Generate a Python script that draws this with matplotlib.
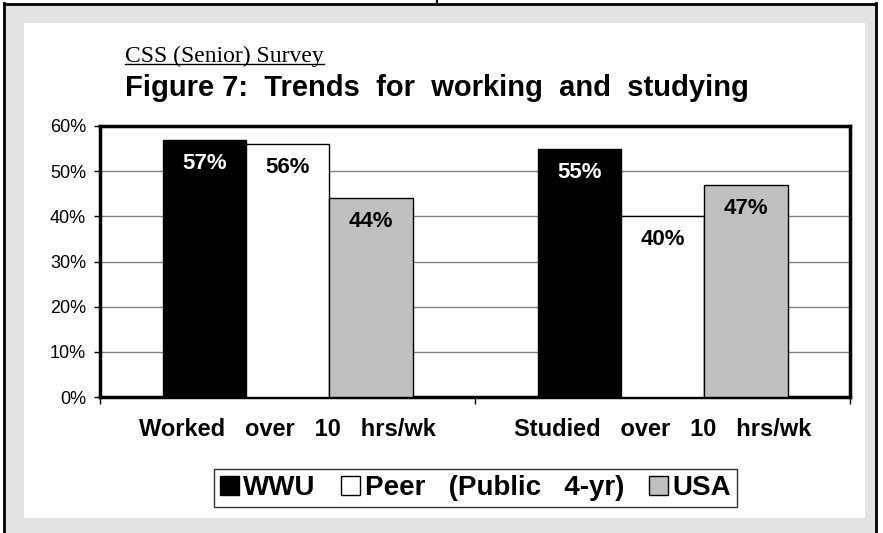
import matplotlib.pyplot as plt
from matplotlib.patches import Rectangle
from matplotlib.lines import Line2D
import numpy as np

categories = ["Worked   over   10   hrs/wk", "Studied   over   10   hrs/wk"]
series_names = ["WWU", "Peer   (Public   4-yr)", "USA"]
wwu = [57, 55]
peer = [56, 40]
usa = [44, 47]
yticks = [0, 10, 20, 30, 40, 50, 60]

colors = ["#000000", "#ffffff", "#c0c0c0"]
label_colors = ["white", "black", "black"]

plt.rcParams['font.family'] = ['Liberation Sans', 'DejaVu Sans']

W, H = 883, 533
fig = plt.figure(figsize=(W / 100, H / 100), dpi=100)
fig.patch.set_facecolor("white")


def px_rect(x0, y0, x1, y1, **kw):
    # rectangle in pixel coords, y measured from the top
    fig.patches.append(Rectangle((x0 / W, 1 - y1 / H), (x1 - x0) / W, (y1 - y0) / H,
                                 transform=fig.transFigure, figure=fig, zorder=-5, **kw))


def px_line(xs, ys, **kw):
    fig.lines.append(Line2D([x / W for x in xs], [1 - y / H for y in ys],
                            transform=fig.transFigure, figure=fig, zorder=-4, **kw))


# grey page frame and white panel behind the chart
px_rect(4, 3, 876, 540, facecolor="#e3e3e3", edgecolor="none")
px_rect(24, 23, 865, 518, facecolor="white", edgecolor="none")
px_line([4, 876], [3.5, 3.5], color="black", lw=2)
px_line([4, 4], [3, 533], color="black", lw=2)
px_line([876, 876], [3, 533], color="black", lw=2)
px_line([437, 437], [0, 3], color="black", lw=1.5)

ax = fig.add_axes([100 / W, 1 - 397 / H, 750 / W, 271 / H])
ax.set_facecolor("white")

x = np.arange(len(categories))
w = 1 / 4.5
all_series = [wwu, peer, usa]
for i, vals in enumerate(all_series):
    xs = x + (i - 1) * w
    ax.bar(xs, vals, w, color=colors[i], edgecolor="black", linewidth=1,
           label=series_names[i], zorder=3)
    for xi, v in zip(xs, vals):
        ax.annotate("%d%%" % v, (xi, v), xytext=(0, -17), textcoords="offset points",
                    ha="center", va="center", fontsize=16, fontweight="bold",
                    color=label_colors[i], zorder=4)

ax.set_xlim(-0.5, 1.5)
ax.set_ylim(0, 60)
ax.set_yticks(yticks)
ax.set_yticklabels(["%d%%" % t for t in yticks], fontsize=13)
ax.yaxis.grid(True, color="#808080", lw=1, zorder=0)
ax.set_xticks(x)
ax.set_xticklabels(categories, fontsize=17, fontweight="bold")
ax.set_xticks([-0.5, 0.5, 1.5], minor=True)
ax.tick_params(axis="x", which="major", length=0, pad=15)
ax.tick_params(axis="x", which="minor", length=5, width=1, direction="out")
ax.tick_params(axis="y", length=4, width=1, pad=6)
for s in ax.spines.values():
    s.set_linewidth(2.5)
    s.set_color("black")

leg = fig.legend(loc="center", bbox_to_anchor=(475.5 / W, 1 - 488 / H), ncol=3,
                 prop={"size": 20, "weight": "bold"}, frameon=True, fancybox=False,
                 edgecolor="black", handlelength=0.7, handleheight=0.7,
                 handletextpad=0.15, columnspacing=0.9, borderpad=0.2)
leg.get_frame().set_linewidth(1)

fig.text(125 / W, 1 - 62 / H, "CSS (Senior) Survey", family="Liberation Serif",
         fontsize=17, ha="left", va="baseline")
fig.text(125 / W, 1 - 96 / H, "Figure 7:  Trends  for  working  and  studying",
         fontsize=21, fontweight="bold", ha="left", va="baseline")

# underline the survey name
fig.canvas.draw()
bb = fig.texts[0].get_window_extent()
px_line([bb.x0, bb.x1], [64, 64], color="black", lw=1)

plt.savefig("out.png", dpi=100)
